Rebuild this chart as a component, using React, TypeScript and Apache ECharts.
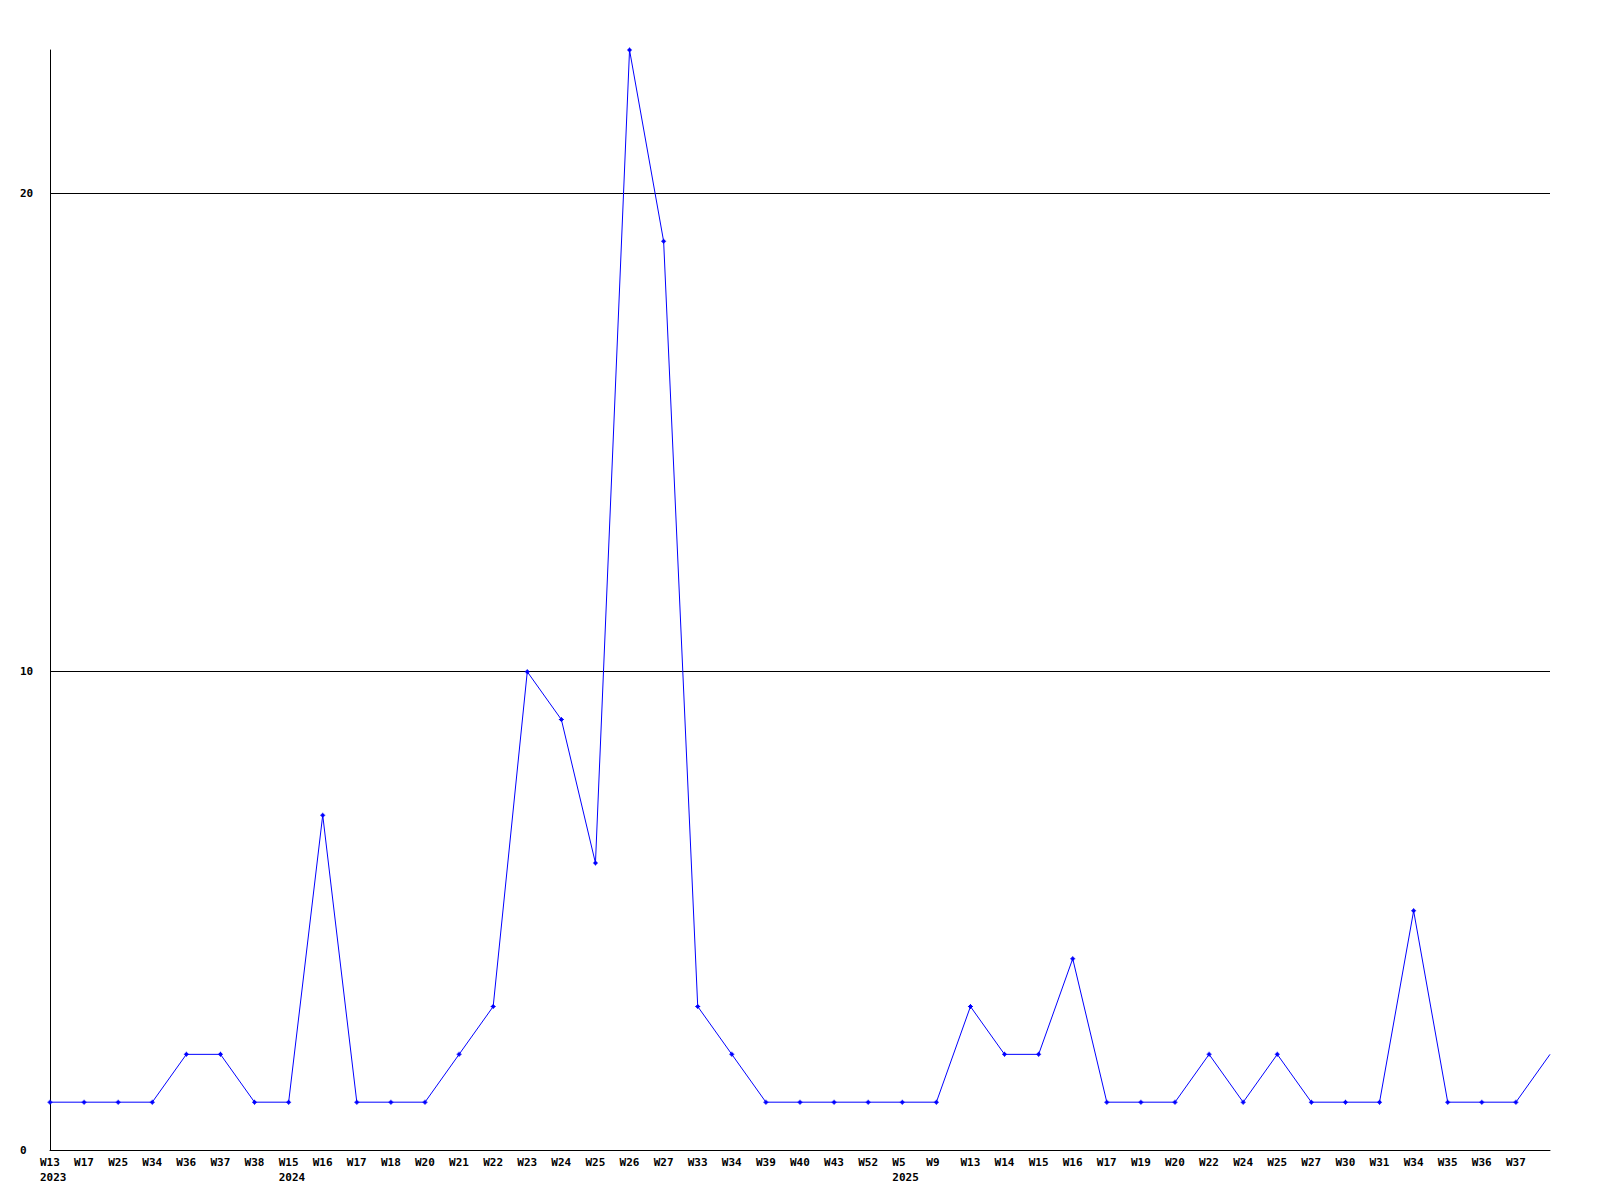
import React, { useEffect, useRef } from "react";
import * as echarts from "echarts";

const weeks = [
  "W13", "W17", "W25", "W34", "W36", "W37", "W38",
  "W15", "W16", "W17", "W18", "W20", "W21", "W22", "W23", "W24", "W25", "W26", "W27", "W33", "W34", "W39", "W40", "W43", "W52",
  "W5", "W9", "W13", "W14", "W15", "W16", "W17", "W19", "W20", "W22", "W24", "W25", "W27", "W30", "W31", "W34", "W35", "W36", "W37", "",
];
const years: Record<number, string> = { 0: "2023", 7: "2024", 25: "2025" };
const values = [
  1, 1, 1, 1, 2, 2, 1,
  1, 7, 1, 1, 1, 2, 3, 10, 9, 6, 23, 19, 3, 2, 1, 1, 1, 1,
  1, 1, 3, 2, 2, 4, 1, 1, 1, 2, 1, 2, 1, 1, 1, 5, 1, 1, 1, 2,
];
const yTicks = [0, 10, 20];

const FONT = "DejaVu Sans Mono";

export default function App() {
  const ref = useRef<HTMLDivElement>(null);
  useEffect(() => {
    document.body.style.margin = "0";
    const chart = echarts.init(ref.current!, null, { renderer: "svg" });
    const categories = weeks.map((w, i) => (years[i] ? `${w}\n${years[i]}` : w));
    chart.setOption({
      animation: false,
      backgroundColor: "#ffffff",
      grid: { left: 50, right: 50, top: 50, bottom: 50 },
      xAxis: {
        type: "category",
        data: categories,
        boundaryGap: false,
        axisLine: { lineStyle: { color: "#000", width: 1 } },
        axisTick: { show: false },
        axisLabel: {
          interval: 0,
          margin: 5,
          color: "#000",
          fontFamily: FONT,
          fontWeight: "bold",
          fontSize: 11,
          lineHeight: 15,
          align: "left",
          formatter: (v: string) => `{a|${v.split("\n").join("}\n{a|")}}`,
          rich: {
            a: { fontFamily: FONT, fontWeight: "bold", fontSize: 11, lineHeight: 15, color: "#000", padding: [0, 0, 0, -10] },
          },
        },
        splitLine: { show: false },
      },
      yAxis: {
        type: "value",
        min: 0,
        max: 23,
        interval: 10,
        axisLine: { show: true, lineStyle: { color: "#000", width: 1 } },
        axisTick: { show: false },
        splitLine: { show: false },
        axisLabel: {
          align: "left",
          margin: 30,
          color: "#000",
          fontFamily: FONT,
          fontWeight: "bold",
          fontSize: 11,
          formatter: (v: number) => (yTicks.includes(v) ? String(v) : ""),
        },
      },
      series: [
        {
          type: "line",
          data: values.map((v, i) =>
            i === values.length - 1 ? { value: v, symbol: "none" } : v
          ),
          color: "#0000ff",
          lineStyle: { color: "#0000ff", width: 1 },
          symbol: "path://M1,1H4V4H1Z M2,0H3V5H2Z M0,2H5V3H0Z",
          symbolSize: 5,
          itemStyle: { color: "#0000ff" },
          showAllSymbol: true,
          z: 3,
          markLine: {
            silent: true,
            symbol: "none",
            label: { show: false },
            lineStyle: { color: "#000", width: 1, type: "solid" },
            data: yTicks.filter((t) => t > 0).map((t) => ({ yAxis: t })),
            z: 1,
          },
        },
      ],
    });
    return () => chart.dispose();
  }, []);
  return <div ref={ref} style={{ width: 1600, height: 1200 }} />;
}
